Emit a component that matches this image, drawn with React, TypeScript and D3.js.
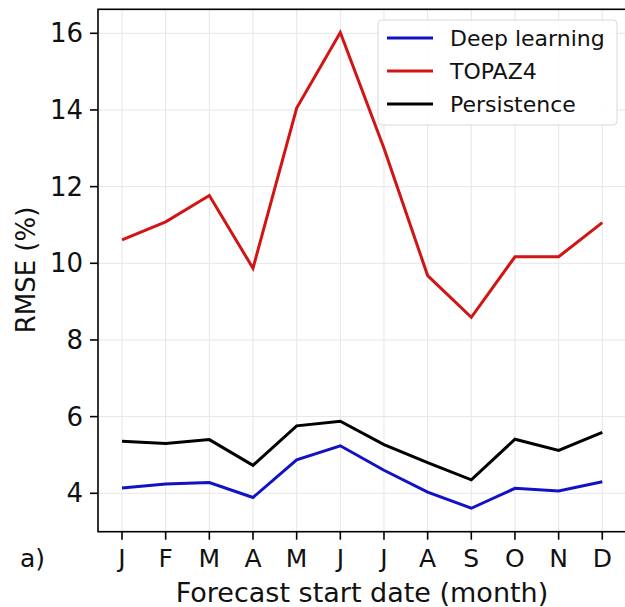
import React from "react";
import * as d3 from "d3";

// Forecast start months (x axis)
const months = ["J", "F", "M", "A", "M", "J", "J", "A", "S", "O", "N", "D"];

// RMSE (%) per forecast start month
const deepLearning = [4.14, 4.24, 4.28, 3.89, 4.87, 5.24, 4.6, 4.03, 3.61, 4.13, 4.06, 4.3];
const topaz4 = [10.61, 11.08, 11.77, 9.87, 14.05, 16.02, 13.0, 9.68, 8.59, 10.17, 10.17, 11.06];
const persistence = [5.36, 5.3, 5.4, 4.73, 5.76, 5.88, 5.27, 4.8, 4.35, 5.41, 5.12, 5.59];

const yTicks = [4, 6, 8, 10, 12, 14, 16];

const seriesNames = ["Deep learning", "TOPAZ4", "Persistence"];
const seriesColors = ["#1212c4", "#d11414", "#000000"];

const W = 625;
const H = 607;
const FONT = "DejaVu Sans, sans-serif";

export default function App() {
  const x = d3.scaleLinear().domain([-0.55, 11.55]).range([98, 626.3]);
  const y = d3.scaleLinear().domain([2.998, 16.626]).range([531.7, 9.3]);

  const line = d3
    .line<number>()
    .x((_, i) => x(i))
    .y((v) => y(v));

  const data = [deepLearning, topaz4, persistence];
  const [x0, x1] = x.range();
  const [yb, yt] = y.range();

  return (
    <svg
      width={W}
      height={H}
      style={{ position: "absolute", left: 0, top: 0, background: "#fff" }}
      fontFamily={FONT}
    >
      <rect x={0} y={0} width={W} height={H} fill="#fff" />
      {/* grid */}
      <g stroke="#e6e6e6" strokeWidth={1}>
        {months.map((_, i) => (
          <line key={"gx" + i} x1={x(i)} x2={x(i)} y1={yt} y2={yb} />
        ))}
        {yTicks.map((t) => (
          <line key={"gy" + t} x1={x0} x2={x1} y1={y(t)} y2={y(t)} />
        ))}
      </g>

      {/* series */}
      {data.map((d, k) => (
        <path
          key={seriesNames[k]}
          d={line(d) ?? ""}
          fill="none"
          stroke={seriesColors[k]}
          strokeWidth={3}
          strokeLinejoin="miter"
        />
      ))}

      {/* frame */}
      <rect
        x={x0}
        y={yt}
        width={x1 - x0}
        height={yb - yt}
        fill="none"
        stroke="#000"
        strokeWidth={1.6}
      />

      {/* y axis ticks */}
      {yTicks.map((t) => (
        <g key={"ty" + t}>
          <line x1={x0 - 8} x2={x0} y1={y(t)} y2={y(t)} stroke="#000" strokeWidth={1.6} />
          <text
            x={x0 - 15}
            y={y(t)}
            textAnchor="end"
            dominantBaseline="central"
            fontSize={26}
            fill="#111"
          >
            {t}
          </text>
        </g>
      ))}

      {/* x axis ticks */}
      {months.map((m, i) => (
        <g key={"tx" + i}>
          <line x1={x(i)} x2={x(i)} y1={yb} y2={yb + 8} stroke="#000" strokeWidth={1.6} />
          <text x={x(i)} y={567} textAnchor="middle" fontSize={25} fill="#111">
            {m}
          </text>
        </g>
      ))}

      <text x={20} y={567} fontSize={25} fill="#111">
        a)
      </text>

      <text x={(x0 + 626) / 2} y={602} textAnchor="middle" fontSize={27} fill="#111">
        Forecast start date (month)
      </text>
      <text
        transform={`translate(35,270) rotate(-90)`}
        textAnchor="middle"
        fontSize={26}
        fill="#111"
      >
        RMSE (%)
      </text>

      {/* legend */}
      <g>
        <rect
          x={378}
          y={20}
          width={239}
          height={105}
          rx={4}
          fill="#fff"
          fillOpacity={0.85}
          stroke="#d8d8d8"
          strokeWidth={1}
        />
        {seriesNames.map((n, k) => (
          <g key={"lg" + k}>
            <line
              x1={387}
              x2={433}
              y1={38 + k * 33}
              y2={38 + k * 33}
              stroke={seriesColors[k]}
              strokeWidth={3}
            />
            <text x={450} y={38 + k * 33} dominantBaseline="central" fontSize={22} fill="#111">
              {n}
            </text>
          </g>
        ))}
      </g>
    </svg>
  );
}
